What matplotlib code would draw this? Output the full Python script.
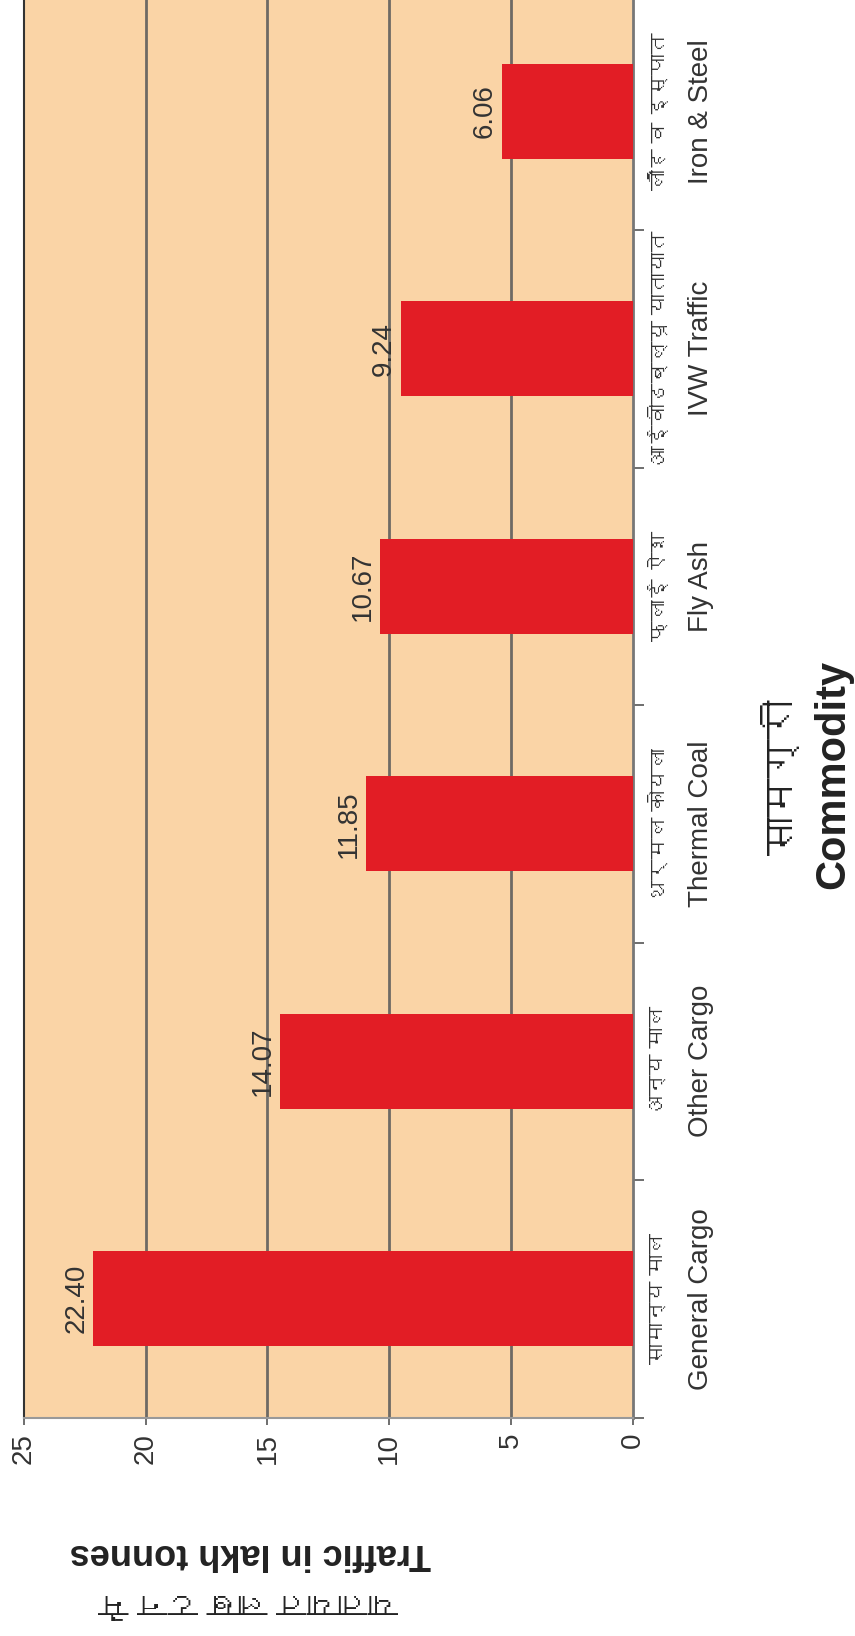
import matplotlib
matplotlib.use("Agg")
import matplotlib.pyplot as plt
from matplotlib import font_manager
from matplotlib.ft2font import FT2Font

# commodities, bottom to top of the (rotated) picture
cat_hi = ["सामान्य माल", "अन्य माल", "थर्मल कोयला", "फ्लाई ऐश",
          "आईवीडब्ल्यू यातायात", "लौह व इस्पात"]
cat_en = ["General Cargo", "Other Cargo", "Thermal Coal", "Fly Ash",
          "IVW Traffic", "Iron & Steel"]
# bar lengths as drawn in the picture, and the numbers printed on them
bar_len = [22.15, 14.5, 10.95, 10.37, 9.5, 5.38]
val_text = ["22.40", "14.07", "11.85", "10.67", "9.24", "6.06"]
val_ticks = [0, 5, 10, 15, 20, 25]


def find_devanagari():
    # look for any installed font that has devanagari glyphs
    for f in font_manager.fontManager.ttflist:
        try:
            if 0x0915 in FT2Font(f.fname).get_charmap():
                return f.name
        except Exception:
            pass
    return None


deva = find_devanagari()
fams = ["Liberation Sans"] + ([deva] if deva else []) + ["DejaVu Sans"]
plt.rcParams['font.family'] = fams

W, H = 855, 1636
fig = plt.figure(figsize=(W / 100, H / 100), dpi=100)
ax = fig.add_axes([24 / W, (H - 1417.5) / H, (632.5 - 24) / W, 1425 / H])

peach = "#fad4a6"
red = "#e21d25"
txt = "#333333"
ax.set_facecolor(peach)

pos = list(range(len(cat_en)))
ax.barh(pos, bar_len, height=0.4, color=red, zorder=3)
ax.set_xlim(25, 0)
ax.set_ylim(-0.5, len(cat_en) - 0.5)

for v in val_ticks[1:-1]:
    ax.axvline(v, color="#6e6a64", lw=2.0, zorder=1)

for p, L, t in zip(pos, bar_len, val_text):
    ax.annotate(t, xy=(L, p), xytext=(-3, 0), textcoords="offset points",
                rotation=90, ha="right", va="center", fontsize=20,
                color=txt, zorder=4)

ax.set_xticks(val_ticks)
ax.set_xticklabels([str(v) for v in val_ticks], rotation=90, fontsize=20,
                   color=txt)
ax.tick_params(axis="x", length=5, width=1.2, color="#555555", pad=6)

# english names as tick labels, hindi names just inside them
ax.yaxis.tick_right()
ax.set_yticks(pos)
ax.set_yticklabels(cat_en, rotation=90, fontsize=20, color=txt,
                   va="center", ha="left")
ax.tick_params(axis="y", which="major", length=0, pad=40)
for p, h in zip(pos, cat_hi):
    ax.annotate(h, xy=(1, p), xycoords=("axes fraction", "data"),
                xytext=(12, 0), textcoords="offset points",
                rotation=90, ha="left", va="center", fontsize=15,
                color=txt, annotation_clip=False)
ax.set_yticks([p - 0.5 for p in pos] + [len(pos) - 0.5], minor=True)
ax.tick_params(axis="y", which="minor", length=8, width=1.2,
               color="#555555", right=True, left=False)

ax.spines["top"].set_visible(False)
ax.spines["left"].set_color("#333333")
ax.spines["left"].set_linewidth(1.5)
ax.spines["right"].set_color("#777777")
ax.spines["right"].set_linewidth(2.0)
ax.spines["bottom"].set_color("#999999")
ax.spines["bottom"].set_linewidth(1.5)

# value axis title (upside down, as in the rotated original)
fig.text(250 / W, 1 - 1553 / H, "Traffic in lakh tonnes", rotation=180,
         ha="center", va="center", fontsize=26, fontweight="bold",
         color="#222222")
fig.text(248 / W, 1 - 1600 / H, "यातायात लाख टन में", rotation=180,
         ha="center", va="center", fontsize=22, fontweight="bold",
         color="#222222")

# category axis title
fig.text(783 / W, 1 - 777 / H, "सामग्री", rotation=90,
         ha="center", va="center", fontsize=28, fontweight="bold",
         color="#222222")
fig.text(833 / W, 1 - 774 / H, "Commodity", rotation=90,
         ha="center", va="center", fontsize=30, fontweight="bold",
         color="#222222")

fig.savefig("out.png", dpi=100, facecolor="white")
